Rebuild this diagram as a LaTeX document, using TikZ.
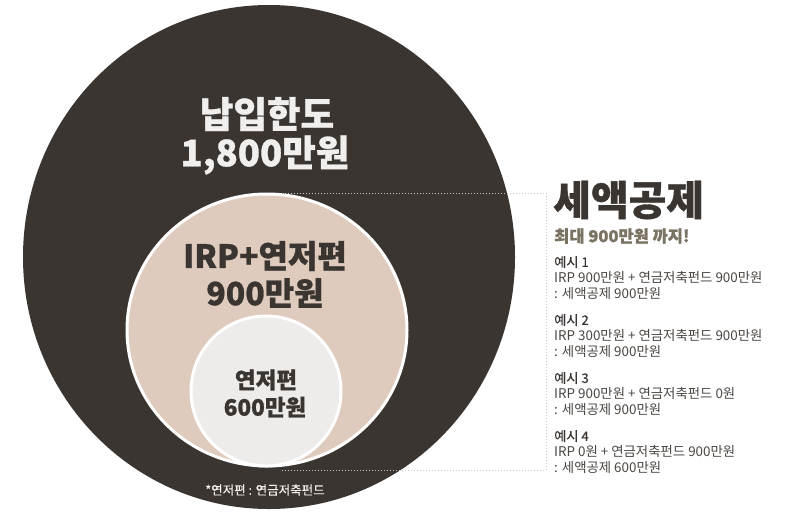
\documentclass[tikz,border=0pt]{standalone}
\usepackage{fontspec}
\setmainfont{Noto Sans CJK KR}
\newfontfamily\heavyfont{Noto Sans CJK KR}[BoldFeatures={FakeBold=0.9}]
\newfontfamily\medfont{Noto Sans CJK KR}[FakeBold=0.35]
\usetikzlibrary{shapes.geometric}
\definecolor{darkbg}{HTML}{3A3531}
\definecolor{beige}{HTML}{DFCBBD}
\definecolor{lightc}{HTML}{EEECEA}
\definecolor{paletxt}{HTML}{F1EFED}
\definecolor{subtxt}{HTML}{7A7262}
\definecolor{bodytxt}{HTML}{4A4642}
\definecolor{dotgray}{HTML}{C8C8C8}
\tikzset{
  blob/.style={ellipse, inner sep=0pt},
  bigtxt/.style={font=\heavyfont\fontsize{36.5}{42}\selectfont\bfseries, text=paletxt, inner sep=0pt},
  midtxt/.style={font=\heavyfont\fontsize{32}{38}\selectfont\bfseries, text=darkbg, inner sep=0pt},
  smalltxt/.style={font=\heavyfont\fontsize{22.5}{27}\selectfont\bfseries, text=darkbg, inner sep=0pt},
  notetxt/.style={font=\medfont\fontsize{12.5}{15}\selectfont, text=paletxt, inner sep=0pt},
  headtxt/.style={font=\heavyfont\fontsize{41}{46}\selectfont\bfseries, text=darkbg, inner sep=0pt, anchor=west},
  subhead/.style={font=\heavyfont\fontsize{16.5}{19}\selectfont\bfseries, text=subtxt, inner sep=0pt, anchor=west},
  extitle/.style={font=\medfont\fontsize{13.2}{15}\selectfont, text=darkbg, inner sep=0pt, anchor=west},
  exline/.style={font=\fontsize{13.4}{15}\selectfont, text=bodytxt, inner sep=0pt, anchor=west},
  bracket/.style={draw=dotgray, line width=1pt, dotted}
}
\begin{document}
\begin{tikzpicture}[x=1pt,y=-1pt]
\useasboundingbox (0,0) rectangle (800,528);
\fill[white] (0,0) rectangle (800,528);
% outer circle
\node[blob, fill=darkbg, minimum width=492pt, minimum height=504pt] (outer) at (269,257) {};
% dotted bracket
\coordinate (bt) at (285,193);
\coordinate (btr) at (546,193);
\coordinate (bbr) at (546,470);
\coordinate (bb) at (280,470);
\draw[bracket] (bt) -- (btr) -- (bbr) -- (bb);
% middle and inner circles
\node[blob, fill=beige, draw=white, line width=3pt, minimum width=280pt, minimum height=272pt] (mid) at (267,330) {};
\node[blob, fill=lightc, draw=white, line width=3pt, minimum width=150pt, minimum height=150pt] (inner) at (266,391) {};
% texts in circles
\node[bigtxt] (t1) at (267,114) {납입한도};
\node[bigtxt] (t2) at (265,155) {1,800만원};
\node[midtxt] (m1) at (265,256) {IRP+연저편};
\node[midtxt] (m2) at (265,293) {900만원};
\node[smalltxt] (s1) at (266,380) {연저편};
\node[smalltxt] (s2) at (265,407) {600만원};
\node[notetxt] (note) at (265,490) {*연저편 : 연금저축펀드};
% right side
\node[headtxt] (h) at (553,200) {세액공제};
\node[subhead] (sh) at (554,236) {최대 900만원 까지!};
\foreach \i/\y/\a/\b in {1/262/IRP 900만원 + 연금저축펀드 900만원/: 세액공제 900만원,
                          2/320/IRP 300만원 + 연금저축펀드 900만원/: 세액공제 900만원,
                          3/378/IRP 900만원 + 연금저축펀드 0원/: 세액공제 900만원,
                          4/436/IRP 0원 + 연금저축펀드 900만원/: 세액공제 600만원}{
  \node[extitle] (ex\i) at (554,\y) {예시 \i};
  \node[exline] (exa\i) at (554,\y+15.5) {\a};
  \node[exline] (exb\i) at (554,\y+31) {\b};
}
\end{tikzpicture}
\end{document}
